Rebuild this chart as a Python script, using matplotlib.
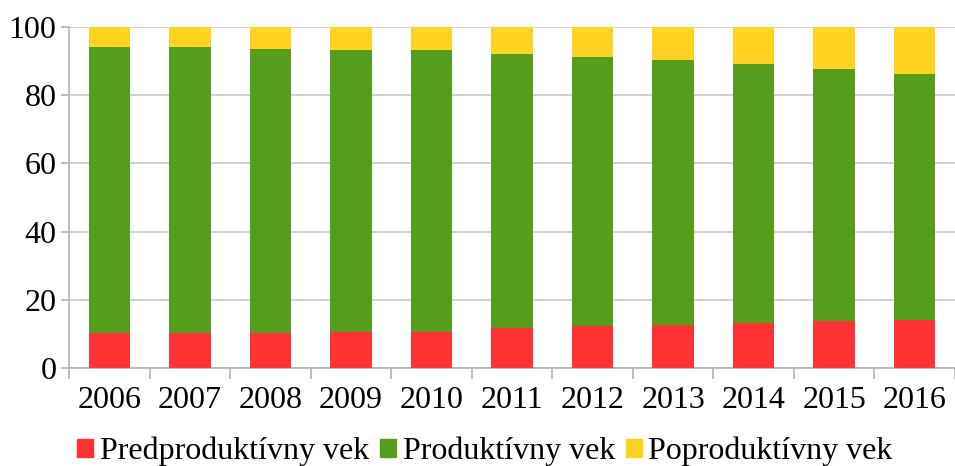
import matplotlib
matplotlib.use('Agg')
import matplotlib.pyplot as plt
import numpy as np
from matplotlib.patches import Patch

years = ['2006', '2007', '2008', '2009', '2010', '2011', '2012', '2013', '2014', '2015', '2016']
pre = [10.3, 10.3, 10.3, 10.6, 10.6, 11.7, 12.3, 12.5, 13.1, 13.7, 14.1]
prod = [83.8, 83.8, 83.2, 82.6, 82.6, 80.4, 78.9, 77.8, 76.0, 74.0, 72.1]
post = [5.9, 5.9, 6.5, 6.8, 6.8, 7.9, 8.8, 9.7, 10.9, 12.3, 13.8]
labels = ['Predproduktívny vek', 'Produktívny vek', 'Poproduktívny vek']
colors = ['#ff3333', '#579d1c', '#ffd320']

plt.rcParams['font.family'] = ['Liberation Serif', 'DejaVu Serif']

fig = plt.figure(figsize=(9.55, 4.66), dpi=100)
ax = fig.add_axes([69 / 955, 98 / 466, 886 / 955, 341 / 466])

x = np.arange(len(years))
w = 0.515
ax.bar(x, pre, w, color=colors[0], zorder=3)
ax.bar(x, prod, w, bottom=pre, color=colors[1], zorder=3)
bottom2 = np.array(pre) + np.array(prod)
ax.bar(x, post, w, bottom=bottom2, color=colors[2], zorder=3)

ax.set_xlim(-0.5, 10.35)
ax.set_ylim(0, 100)
ax.set_yticks([0, 20, 40, 60, 80, 100])
ax.yaxis.grid(True, color='#c8c8c8', linewidth=1.2, zorder=0)

ax.set_xticks(x)
ax.set_xticklabels(years)
ax.set_xticks(np.arange(-0.5, 11, 1), minor=True)
ax.tick_params(axis='x', which='major', length=0, pad=13, labelsize=23)
ax.tick_params(axis='x', which='minor', length=8, color='#b3b3b3', width=1.2)
ax.tick_params(axis='y', length=6, color='#b3b3b3', width=1.2, labelsize=23, pad=3)

for s in ['top', 'right']:
    ax.spines[s].set_visible(False)
for s in ['left', 'bottom']:
    ax.spines[s].set_color('#b3b3b3')
    ax.spines[s].set_linewidth(1.2)

handles = [Patch(color=c) for c in colors]
fig.legend(handles, labels, loc='lower left', bbox_to_anchor=(55 / 955, -0.048),
           ncol=3, frameon=False, fontsize=23, handlelength=0.5, handleheight=0.5,
           handletextpad=0.2, columnspacing=0.35, borderpad=0.2)

fig.savefig('out.png', dpi=100)
